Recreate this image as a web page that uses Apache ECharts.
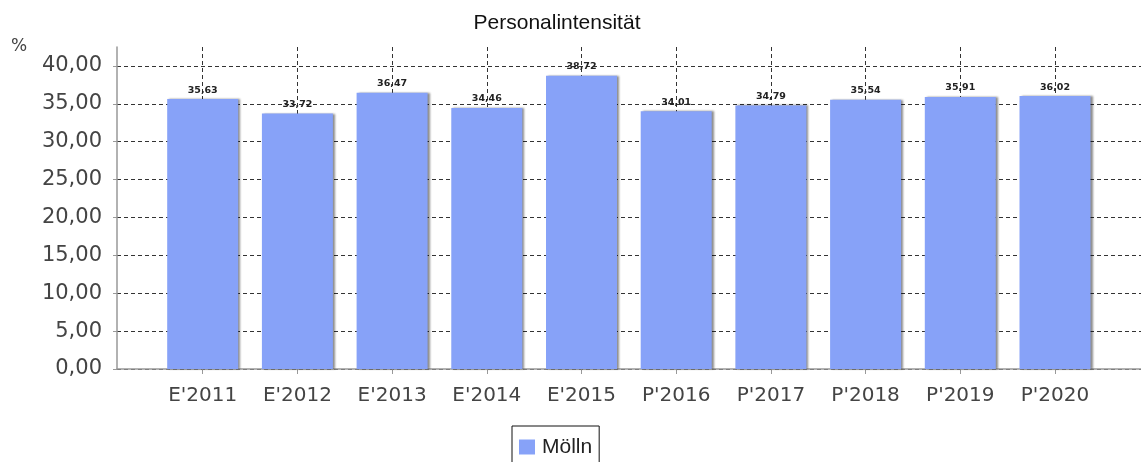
<!DOCTYPE html>
<html><head><meta charset="utf-8">
<script src="https://cdn.jsdelivr.net/npm/echarts@6/dist/echarts.min.js"></script>
<style>html,body{margin:0;padding:0;background:#fff}#c{width:1141px;height:462px}</style>
</head><body><div id="c"></div>
<script>
const categories = ["E'2011","E'2012","E'2013","E'2014","E'2015","P'2016","P'2017","P'2018","P'2019","P'2020"];
const values = [35.63, 33.72, 36.47, 34.46, 38.72, 34.01, 34.79, 35.54, 35.91, 36.02];
const seriesName = 'Mölln';
const titleText = 'Personalintensität';
const unitText = '%';

const fmt = v => v.toFixed(2).replace('.', ',');
const chart = echarts.init(document.getElementById('c'), null, {renderer: 'canvas'});
const dash = [4, 3];
chart.setOption({
  animation: false,
  backgroundColor: '#fff',
  graphic: [
    {type: 'text', x: 557, y: 23, style: {text: titleText, fontFamily: 'Liberation Sans', fontSize: 21, fill: '#111', textAlign: 'center', textVerticalAlign: 'middle'}},
    {type: 'text', x: 11, y: 47, style: {text: unitText, fontFamily: 'DejaVu Sans', fontSize: 17, fill: '#444', textAlign: 'left', textVerticalAlign: 'middle'}}
  ],
  legend: {
    data: [seriesName], left: 512, top: 426, orient: 'horizontal',
    borderColor: '#111', borderWidth: 1, borderRadius: 0, padding: [8, 7, 8, 7],
    itemWidth: 16, itemHeight: 15, icon: 'rect',
    textStyle: {fontFamily: 'Liberation Sans', fontSize: 21, color: '#222', lineHeight: 26, padding: [0, 0, 0, 2]}
  },
  grid: [
    {left: 117, right: 0, top: 47, bottom: 93, containLabel: false},
    {left: 202.7, right: 86, top: 47, bottom: 93, containLabel: false}
  ],
  xAxis: [
    {gridIndex: 0, type: 'category', data: [''], boundaryGap: true,
     axisLine: {show: true, onZero: false, lineStyle: {color: '#999', width: 1.5}},
     axisTick: {show: false}, axisLabel: {show: false}, splitLine: {show: false}, splitArea: {show: false}},
    {gridIndex: 1, type: 'category', data: categories, boundaryGap: false,
     axisLine: {show: false},
     axisTick: {show: true, length: 5, lineStyle: {color: '#999'}},
     axisLabel: {fontFamily: 'DejaVu Sans', fontSize: 20, color: '#444', margin: 17, interval: 0},
     splitLine: {show: true, showMinLine: true, showMaxLine: true, lineStyle: {color: '#333', type: dash, width: 1}}}
  ],
  yAxis: [
    {gridIndex: 0, type: 'value', min: 0, max: 42.5, interval: 5,
     axisLine: {show: true, lineStyle: {color: '#999', width: 1.5}},
     axisTick: {show: true, length: 4, lineStyle: {color: '#999'}},
     axisLabel: {fontFamily: 'DejaVu Sans', fontSize: 21, color: '#444', margin: 15, showMaxLabel: false,
                 formatter: v => (v % 5 === 0 ? fmt(v) : '')},
     splitLine: {show: true, showMaxLine: false, lineStyle: {color: '#333', type: dash, width: 1}}},
    {gridIndex: 1, type: 'value', min: 0, max: 42.5, show: false, splitLine: {show: false}}
  ],
  series: [{
    name: seriesName, type: 'bar', xAxisIndex: 1, yAxisIndex: 1, data: values,
    barWidth: 71, clip: false,
    itemStyle: {color: '#87a2f8', shadowColor: 'rgba(0,0,0,0.45)', shadowBlur: 2, shadowOffsetX: 2, shadowOffsetY: 0},
    label: {show: true, position: 'top', distance: 4, formatter: p => fmt(p.value),
            fontFamily: 'DejaVu Sans', fontWeight: 'bold', fontSize: 9.5, color: '#222'}
  }]
});
</script></body></html>
